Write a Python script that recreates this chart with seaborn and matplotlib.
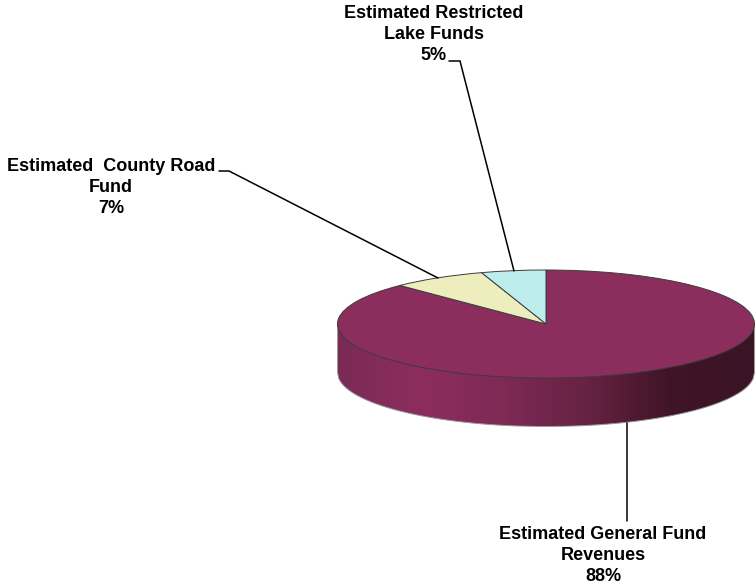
import numpy as np
import matplotlib.pyplot as plt
from matplotlib.patches import Polygon
import seaborn as sns

labels = ['Estimated General Fund\nRevenues\n88%',
          'Estimated  County Road\nFund\n7%',
          'Estimated Restricted\nLake Funds\n5%']
values = [87.65, 7.35, 5.0]
colors = ['#8b2e5d', '#eeedbd', '#bcecec']
side_colors = ['#7a2a55', '#8d2d5e', '#7d2a55', '#662243', '#3f1426', '#3a1527']

W, H = 755, 584
# pie ellipse in pixels
cx, cy, rx, ry, depth = 546, 324, 208.5, 54, 48.5

sns.set_theme(style='white')
plt.rcParams['font.family'] = ['Liberation Sans', 'DejaVu Sans']

fig = plt.figure(figsize=(W / 100, H / 100), dpi=100)

# pixel axes for the side wall, leaders and labels
ax = fig.add_axes([0, 0, 1, 1], zorder=1)
ax.set_xlim(0, W)
ax.set_ylim(H, 0)
ax.axis('off')

# side wall with the left to right shading
t = np.linspace(-1, 1, 300)
xs = cx + rx * t
low = cy + depth + ry * np.sqrt(1 - t ** 2)
outline = np.r_[np.c_[xs, np.full_like(xs, cy)], np.c_[xs[::-1], low[::-1]]]
wall = Polygon(outline, closed=True, fc='none', ec='#999999', lw=0.7, zorder=2)
ax.add_patch(wall)
cmap = sns.blend_palette(side_colors, as_cmap=True)
img = ax.imshow(np.linspace(0, 1, 256)[None, :], cmap=cmap, aspect='auto',
                extent=(cx - rx, cx + rx, cy + depth + ry, cy), zorder=1)
img.set_clip_path(wall)
ax.set_xlim(0, W)
ax.set_ylim(H, 0)

# top of the pie, the axes box is the ellipse box
ax_pie = fig.add_axes([(cx - rx) / W, 1 - (cy + ry) / H, 2 * rx / W, 2 * ry / H], zorder=2)
wedges, _ = ax_pie.pie(values, colors=colors, startangle=90, counterclock=False, radius=1,
                       wedgeprops=dict(edgecolor='#3c3c3c', linewidth=0.7, clip_on=False))
ax_pie.set_aspect('auto')
ax_pie.set_xlim(-1, 1)
ax_pie.set_ylim(-1, 1)

# leaders and labels on top
ax_top = fig.add_axes([0, 0, 1, 1], zorder=3)
ax_top.set_xlim(0, W)
ax_top.set_ylim(H, 0)
ax_top.axis('off')
ax_top.patch.set_alpha(0)

leaders = [([626.5, 626.5], [423, 521]),
           ([219, 229, 438], [171, 171, 278]),
           ([449, 460, 514], [61, 61, 271])]
for lx, ly in leaders:
    ax_top.plot(lx, ly, color='black', lw=1.1, solid_joinstyle='miter')

label_pos = [(603, 526), (111, 158), (433.5, 5.5)]
for text, (tx, ty) in zip(labels, label_pos):
    ax_top.text(tx, ty, text, ha='center', va='top', fontsize=13, fontweight='bold',
                color='black', linespacing=1.29)

fig.savefig('out.png', dpi=100)
